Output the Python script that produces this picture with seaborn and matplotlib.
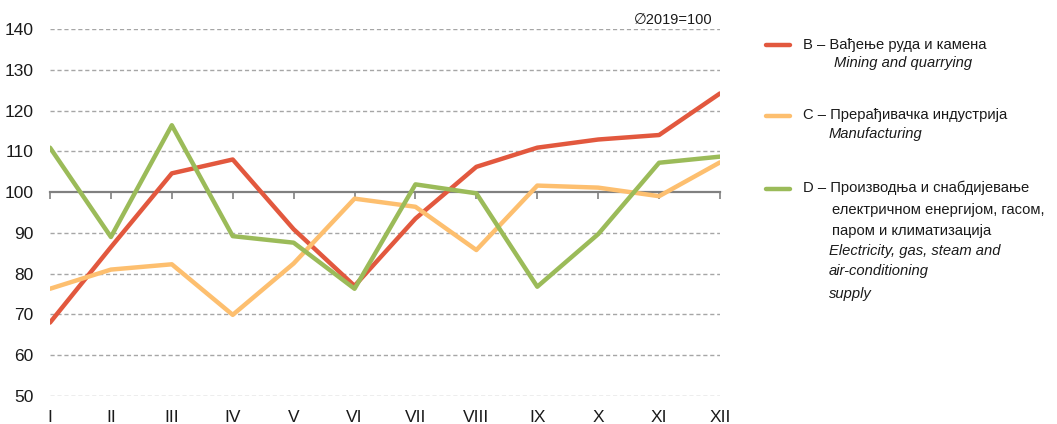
import matplotlib
matplotlib.use("Agg")
import matplotlib.pyplot as plt
from matplotlib.lines import Line2D
import seaborn as sns
import pandas as pd
import numpy as np

months = ["I", "II", "III", "IV", "V", "VI", "VII", "VIII", "IX", "X", "XI", "XII"]
mining = [68.0, 86.5, 104.6, 108.0, 90.9, 77.0, 93.5, 106.2, 110.9, 112.9, 114.0, 124.2]
manufacturing = [76.3, 81.0, 82.3, 69.9, 82.5, 98.4, 96.4, 85.8, 101.6, 101.1, 99.0, 107.3]
electricity = [110.9, 89.0, 116.4, 89.2, 87.6, 76.3, 101.9, 99.7, 76.8, 89.7, 107.2, 108.7]
series_names = ["B", "C", "D"]
yticks = [50, 60, 70, 80, 90, 100, 110, 120, 130, 140]
note = "\u22052019=100"

colors = {"B": "#E2583E", "C": "#FDBF6F", "D": "#9BBB59"}

df = pd.DataFrame({
    "idx": list(range(len(months))) * 3,
    "value": mining + manufacturing + electricity,
    "series": sum([[s] * len(months) for s in series_names], []),
})

sns.set_theme(style="white")
plt.rcParams["font.family"] = ["Liberation Sans", "DejaVu Sans"]

fig = plt.figure(figsize=(10.57, 4.24), dpi=100)
ax = fig.add_axes([50 / 1057, 1 - 396 / 424, 670 / 1057, 367 / 424])

for y in yticks:
    if y != 100:
        ax.axhline(y, color="#A6A6A6", lw=1.0, ls=(0, (3, 2)), zorder=0)

sns.lineplot(data=df, x="idx", y="value", hue="series", palette=colors,
             linewidth=3.2, ax=ax, legend=False, zorder=3)

ax.set_xlim(0, len(months) - 1)
ax.set_ylim(50, 140)
ax.set_yticks(yticks)
ax.set_yticklabels([str(v) for v in yticks], fontsize=12.5, color="#1a1a1a")
ax.set_xlabel("")
ax.set_ylabel("")
for s in ["left", "right", "top"]:
    ax.spines[s].set_visible(False)
ax.spines["bottom"].set_position(("data", 100))
ax.spines["bottom"].set_color("#808080")
ax.spines["bottom"].set_linewidth(1.6)
ax.spines["bottom"].set_zorder(1)
ax.set_xticks(range(len(months)))
ax.tick_params(axis="x", direction="out", length=5, width=1.2, color="#808080",
               labelbottom=False, bottom=True)
ax.tick_params(axis="y", length=0, pad=12)
ax.grid(False)

sec = ax.secondary_xaxis(0)
sec.set_xticks(range(len(months)))
sec.set_xticklabels(months, fontsize=12.5, color="#1a1a1a")
sec.tick_params(length=0, pad=10)
sec.spines["bottom"].set_visible(False)

fig.text(713 / 1057, 1 - 20 / 424, note, ha="right", va="center", fontsize=10.5, color="#1a1a1a")

# legend
W, H = 1057, 424
def ft(x, y, s, italic=False):
    fig.text(x / W, 1 - y / H, s, ha="left", va="center", fontsize=10.6,
             style="italic" if italic else "normal", color="#1a1a1a")

for name, yy in zip(series_names, [45, 116, 189]):
    fig.add_artist(Line2D([766 / W, 790 / W], [1 - yy / H, 1 - yy / H],
                          transform=fig.transFigure, color=colors[name], lw=3.2))

ft(803, 45, "B \u2013 Вађење руда и камена")
ft(834, 63, "Mining and quarrying", True)
ft(803, 115, "C \u2013 Прерађивачка индустрија")
ft(829, 134, "Manufacturing", True)
ft(803, 188, "D \u2013 Производња и снабдијевање")
ft(832, 210, "електричном енергијом, гасом,")
ft(832, 231, "паром и климатизација")
ft(829, 251, "Electricity, gas, steam and", True)
ft(829, 271, "air-conditioning", True)
ft(829, 294, "supply", True)

fig.savefig("out.png", dpi=100)
